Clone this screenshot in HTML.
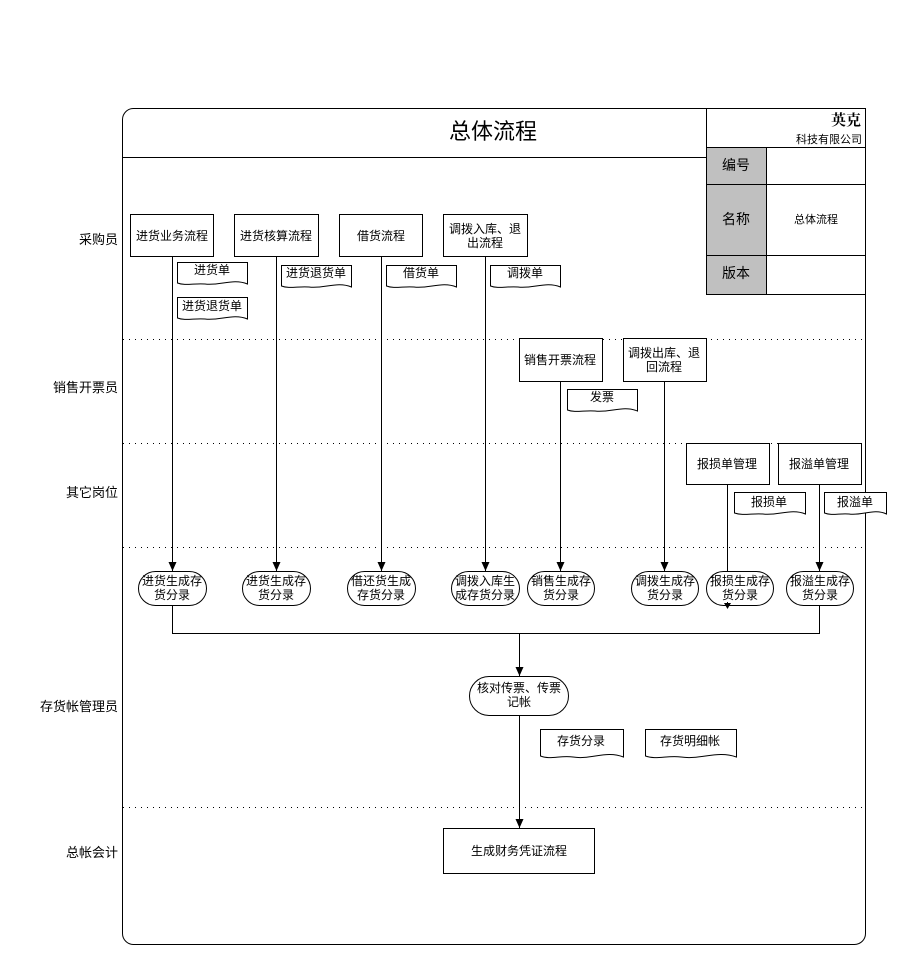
<!DOCTYPE html>
<html><head><meta charset="utf-8"><style>
html,body{margin:0;padding:0;background:#fff;}
svg text{font-family:"Liberation Sans","Noto Sans CJK SC",sans-serif;font-size:12px;fill:#000;}
</style></head><body>
<svg width="906" height="950" viewBox="0 0 906 950" xmlns="http://www.w3.org/2000/svg">
<defs>
<marker id="a" markerWidth="10" markerHeight="10" refX="9" refY="5" orient="auto" markerUnits="userSpaceOnUse">
<path d="M0,1 L9,5 L0,9 Z" fill="#000"/>
</marker>
</defs>
<g fill="none" stroke="#000" stroke-width="1">
<rect x="122.5" y="108.5" width="743" height="836" rx="11" ry="11"/>
<line x1="122" y1="157.5" x2="706" y2="157.5"/>
<rect x="706.5" y="108.5" width="159" height="186" fill="#fff"/>
<rect x="706.5" y="147.5" width="60" height="147" fill="#c0c0c0"/>
<line x1="706" y1="147.5" x2="865" y2="147.5"/>
<line x1="706" y1="184.5" x2="865" y2="184.5"/>
<line x1="706" y1="255.5" x2="865" y2="255.5"/>
<line x1="766.5" y1="147" x2="766.5" y2="294"/>
</g>
<g stroke="#000" stroke-width="1" stroke-dasharray="1,5">
<line x1="123" y1="339.5" x2="865" y2="339.5"/>
<line x1="123" y1="443.5" x2="865" y2="443.5"/>
<line x1="123" y1="547.5" x2="865" y2="547.5"/>
<line x1="123" y1="807.5" x2="865" y2="807.5"/>
</g>
<text x="493" y="139" text-anchor="middle" style="font-size:22px">总体流程</text>
<text x="861" y="125" text-anchor="end" style="font-size:15px;font-weight:bold;font-family:'Noto Serif CJK SC',serif">英克</text>
<text x="862" y="143" text-anchor="end" style="font-size:11px">科技有限公司</text>
<text x="736" y="170" text-anchor="middle" style="font-size:14px">编号</text>
<text x="736" y="224" text-anchor="middle" style="font-size:14px">名称</text>
<text x="816" y="223" text-anchor="middle" style="font-size:11px">总体流程</text>
<text x="736" y="278" text-anchor="middle" style="font-size:14px">版本</text>
<g text-anchor="end">
<text x="118" y="244" style="font-size:13px">采购员</text>
<text x="118" y="392" style="font-size:13px">销售开票员</text>
<text x="118" y="497" style="font-size:13px">其它岗位</text>
<text x="118" y="711" style="font-size:13px">存货帐管理员</text>
<text x="118" y="857" style="font-size:13px">总帐会计</text>
</g>
<g fill="none" stroke="#000">
<line x1="172.5" y1="256" x2="172.5" y2="571" marker-end="url(#a)"/>
<line x1="276.5" y1="256" x2="276.5" y2="571" marker-end="url(#a)"/>
<line x1="381.5" y1="256" x2="381.5" y2="571" marker-end="url(#a)"/>
<line x1="485.5" y1="256" x2="485.5" y2="571" marker-end="url(#a)"/>
<line x1="560.5" y1="381" x2="560.5" y2="571" marker-end="url(#a)"/>
<line x1="664.5" y1="381" x2="664.5" y2="571" marker-end="url(#a)"/>
<line x1="727.5" y1="484" x2="727.5" y2="608" marker-end="url(#a)"/>
<line x1="819.5" y1="484" x2="819.5" y2="571" marker-end="url(#a)"/>
<polyline points="172.5,605 172.5,633.5 819.5,633.5 819.5,605"/>
<line x1="519.5" y1="633" x2="519.5" y2="676" marker-end="url(#a)"/>
<line x1="519.5" y1="715" x2="519.5" y2="828" marker-end="url(#a)"/>
</g>
<g fill="#fff" stroke="#000">
<rect x="130.5" y="214.5" width="83" height="42"/>
<rect x="234.5" y="214.5" width="84" height="42"/>
<rect x="339.5" y="214.5" width="83" height="42"/>
<rect x="443.5" y="214.5" width="84" height="42"/>
<rect x="519.5" y="338.5" width="83" height="43"/>
<rect x="623.5" y="338.5" width="83" height="43"/>
<rect x="686.5" y="443.5" width="83" height="41"/>
<rect x="778.5" y="443.5" width="83" height="41"/>
<rect x="443.5" y="828.5" width="151" height="45"/>
<path d="M177.5,262.5 H247.5 V284 C233,278 220,286 205,284 C195,283 185,286 177.5,283 Z"/>
<path d="M177.5,297.5 H247.5 V319 C233,313 220,321 205,319 C195,318 185,321 177.5,318 Z"/>
<path d="M281.5,265.5 H351.5 V287 C337,281 324,289 309,287 C299,286 289,289 281.5,286 Z"/>
<path d="M386.5,265.5 H456.5 V287 C442,281 429,289 414,287 C404,286 394,289 386.5,286 Z"/>
<path d="M490.5,265.5 H560.5 V287 C546,281 533,289 518,287 C508,286 498,289 490.5,286 Z"/>
<path d="M567.5,389.5 H637.5 V411 C623,405 610,413 595,411 C585,410 575,413 567.5,410 Z"/>
<path d="M734.5,492.5 H805.5 V514 C791,508 778,516 763,514 C753,513 743,516 734.5,513 Z"/>
<path d="M824.5,492.5 H886.5 V514 C874,508 862,516 849,514 C840,513 832,516 824.5,513 Z"/>
<path d="M540.5,729.5 H623.5 V757 C606,750 591,760 573,757 C561,755 550,760 540.5,756 Z"/>
<path d="M645.5,729.5 H736.5 V757 C717,750 701,760 681,757 C668,755 656,760 645.5,756 Z"/>
<rect x="138.5" y="571.5" width="68" height="34" rx="17"/>
<rect x="242.5" y="571.5" width="68" height="34" rx="17"/>
<rect x="347.5" y="571.5" width="68" height="34" rx="17"/>
<rect x="451.5" y="571.5" width="68" height="34" rx="17"/>
<rect x="527.5" y="571.5" width="67" height="34" rx="17"/>
<rect x="631.5" y="571.5" width="67" height="34" rx="17"/>
<rect x="706.5" y="571.5" width="67" height="34" rx="17"/>
<rect x="786.5" y="571.5" width="67" height="34" rx="17"/>
<rect x="469.5" y="676.5" width="99" height="39" rx="19.5"/>
</g>
<line x1="727.5" y1="602" x2="727.5" y2="608" stroke="#000"/>
<path d="M724,603 L731,603 L727.5,609 Z" fill="#000"/>
<g text-anchor="middle">
<text x="172" y="240">进货业务流程</text>
<text x="276" y="240">进货核算流程</text>
<text x="381" y="240">借货流程</text>
<text x="485" y="233">调拨入库、退</text>
<text x="485" y="247">出流程</text>
<text x="560" y="364">销售开票流程</text>
<text x="664" y="357">调拨出库、退</text>
<text x="664" y="371">回流程</text>
<text x="727" y="468">报损单管理</text>
<text x="819" y="468">报溢单管理</text>
<text x="519" y="855">生成财务凭证流程</text>
<text x="212" y="274">进货单</text>
<text x="212" y="310">进货退货单</text>
<text x="316" y="277">进货退货单</text>
<text x="421" y="277">借货单</text>
<text x="525" y="277">调拨单</text>
<text x="602" y="401">发票</text>
<text x="769" y="506">报损单</text>
<text x="855" y="506">报溢单</text>
<text x="581" y="745">存货分录</text>
<text x="690" y="745">存货明细帐</text>
<text x="172" y="585">进货生成存</text><text x="172" y="599">货分录</text>
<text x="276" y="585">进货生成存</text><text x="276" y="599">货分录</text>
<text x="381" y="585">借还货生成</text><text x="381" y="599">存货分录</text>
<text x="485" y="585">调拨入库生</text><text x="485" y="599">成存货分录</text>
<text x="561" y="585">销售生成存</text><text x="561" y="599">货分录</text>
<text x="665" y="585">调拨生成存</text><text x="665" y="599">货分录</text>
<text x="740" y="585">报损生成存</text><text x="740" y="599">货分录</text>
<text x="820" y="585">报溢生成存</text><text x="820" y="599">货分录</text>
<text x="519" y="692">核对传票、传票</text><text x="519" y="706">记帐</text>
</g>
</svg>
</body></html>
